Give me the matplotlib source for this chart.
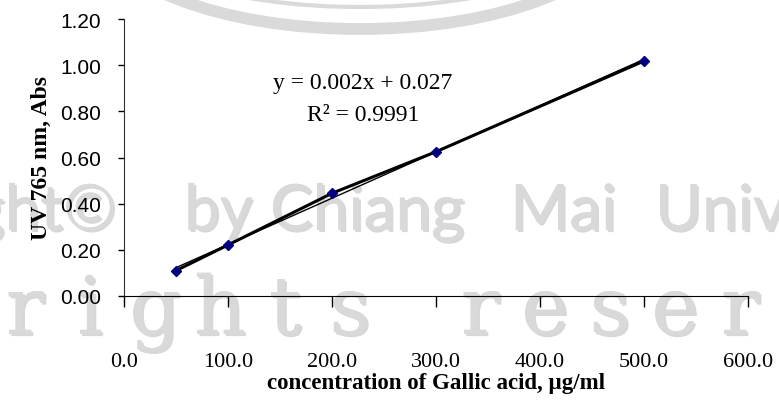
import numpy as np
from matplotlib import pyplot as plt
from matplotlib import patheffects
from matplotlib.patches import Arc

# Gallic acid standard curve
conc = [50, 100, 200, 300, 500]             # µg/ml
absorb = [0.110, 0.221, 0.445, 0.625, 1.018]  # UV 765 nm
x_ticks = [0, 100, 200, 300, 400, 500, 600]
y_ticks = [0.0, 0.2, 0.4, 0.6, 0.8, 1.0, 1.2]
eq_text = "y = 0.002x + 0.027"
r2_text = "R\u00b2 = 0.9991"

W, H = 779, 406
fig = plt.figure(figsize=(W / 100, H / 100), dpi=100)
ax = fig.add_axes([124 / W, 1 - 297 / H, 624 / W, 277 / H])
ax.set_facecolor('none')


def px(x, y):
    return x / W, 1 - y / H


# background watermark
wm = dict(color='#d9d9d9', zorder=-5,
          path_effects=[patheffects.withSimplePatchShadow(offset=(1.5, -1.5),
                                                           shadow_rgbFace='#b0b0b0', alpha=0.5),
                        patheffects.Normal()])
fig.add_artist(Arc(px(360, -74), 520 / W, 2 * 104 / H, theta1=180, theta2=360,
                   transform=fig.transFigure, lw=8.5, color='#dadada', zorder=-5))
fig.add_artist(Arc(px(360, -74), 486 / W, 2 * 82 / H, theta1=180, theta2=360,
                   transform=fig.transFigure, lw=3, color='#dadada', zorder=-5))

for word, xpos, ha in [("Copyright\u00a9", 116, 'right'), ("by", 184, 'left'),
                       ("Chiang", 270, 'left'), ("Mai", 510, 'left'),
                       ("University", 655, 'left')]:
    fig.text(*px(xpos, 231), word, ha=ha, va='baseline', fontsize=46,
             family='Lato', **wm)

for i, ch in enumerate("rights reserved"):
    if ch != ' ':
        fig.text(*px(25 + 65 * i, 335), ch, ha='center', va='baseline',
                 fontsize=58, family='DejaVu Serif', **wm)

# data and linear trendline
slope, intercept = np.polyfit(conc, absorb, 1)
xfit = np.array([min(conc), max(conc)])
ax.plot(conc, absorb, color='black', lw=2.2, zorder=3)
ax.plot(xfit, slope * xfit + intercept, color='black', lw=1.0, zorder=3)
ax.plot(conc, absorb, ls='none', marker='D', ms=5.5, color='#000080', zorder=4)

ax.text(143, 0.925, eq_text, fontsize=17, family='Liberation Serif', va='center')
ax.text(176, 0.785, r2_text, fontsize=17, family='Liberation Serif', va='center')

ax.set_xlim(0, 600)
ax.set_ylim(0, 1.2)
ax.set_xticks(x_ticks)
ax.set_xticklabels([f"{v:.1f}" for v in x_ticks], family='Liberation Serif', fontsize=16)
ax.set_yticks(y_ticks)
ax.set_yticklabels([f"{v:.2f}" for v in y_ticks], family='Liberation Sans', fontsize=15)
ax.tick_params(axis='x', direction='out', length=8, width=1, pad=32)
ax.tick_params(axis='y', direction='out', length=4.5, width=1, pad=12)

for side in ['top', 'right']:
    ax.spines[side].set_visible(False)
ax.spines['left'].set_color('#303030')

ax.set_xlabel("concentration of Gallic acid, µg/ml", family='Liberation Serif',
              fontweight='bold', fontsize=16.5, labelpad=1)
ax.set_ylabel("UV 765 nm, Abs", family='Liberation Serif', fontweight='bold',
              fontsize=17, labelpad=6)

fig.savefig('out.png', dpi=100)
